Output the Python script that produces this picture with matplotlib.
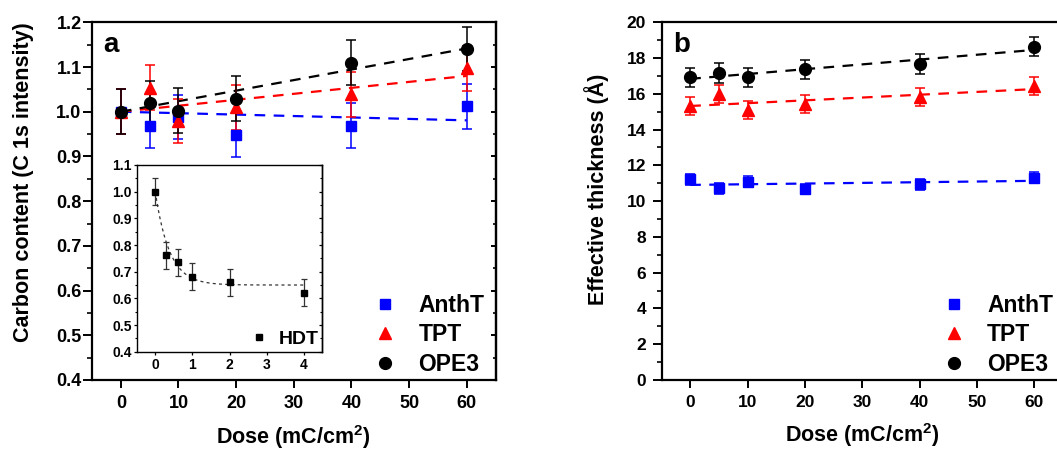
import numpy as np
import matplotlib
matplotlib.use("Agg")
import matplotlib.pyplot as plt
from matplotlib.ticker import MultipleLocator
from matplotlib.lines import Line2D

plt.rcParams['font.family'] = ['Liberation Sans', 'DejaVu Sans']
plt.rcParams['font.weight'] = 'bold'
plt.rcParams['mathtext.fontset'] = 'custom'
plt.rcParams['mathtext.rm'] = 'Liberation Sans:bold'
plt.rcParams['mathtext.it'] = 'Liberation Sans:bold'
plt.rcParams['mathtext.bf'] = 'Liberation Sans:bold'
plt.rcParams['mathtext.default'] = 'rm'

# ---------------- data ----------------
dose = [0, 5, 10, 20, 40, 60]
series = ['AnthT', 'TPT', 'OPE3']

# panel a: normalised carbon content
carbon_anth = [1.000, 0.968, 0.988, 0.948, 0.969, 1.012]
carbon_tpt = [1.000, 1.054, 0.979, 1.010, 1.039, 1.097]
carbon_ope3 = [1.000, 1.019, 1.002, 1.029, 1.110, 1.140]
carbon_err = [0.05, 0.05, 0.05, 0.05, 0.05, 0.05]

# panel b: effective thickness (Å)
thick_anth = [11.22, 10.72, 11.09, 10.68, 10.94, 11.31]
thick_tpt = [15.30, 15.97, 15.10, 15.43, 15.80, 16.45]
thick_ope3 = [16.92, 17.15, 16.92, 17.37, 17.67, 18.64]
thick_err_anth = [0.30, 0.30, 0.30, 0.30, 0.30, 0.30]
thick_err_tpt = [0.50, 0.50, 0.50, 0.50, 0.50, 0.50]
thick_err_ope3 = [0.55, 0.55, 0.55, 0.55, 0.55, 0.55]

# inset: HDT
hdt_dose = [0, 0.3, 0.6, 1, 2, 4]
hdt_carbon = [1.000, 0.761, 0.735, 0.681, 0.660, 0.621]
hdt_err = [0.05, 0.05, 0.05, 0.05, 0.05, 0.05]
hdt_fit_plateau = 0.65
hdt_fit_amp = 0.35
hdt_fit_tau = 0.38

colors = ['#0000ff', '#ff0000', '#000000']
markers = ['s', '^', 'o']
msizes = [7.5, 9, 8.5]

W, H = 1057, 450
fig = plt.figure(figsize=(W / 100, H / 100), dpi=100)

def frac(x0, y0, x1, y1):
    return [x0 / W, 1 - y1 / H, (x1 - x0) / W, (y1 - y0) / H]

axa = fig.add_axes(frac(92, 22.3, 495.5, 380))
axb = fig.add_axes(frac(661.5, 22.3, 1063, 380))
axi = fig.add_axes(frac(136.7, 165, 322.3, 351.7))


def style_main(ax, ymajor, yminor, lab_fs, ypad):
    for s in ax.spines.values():
        s.set_linewidth(1.6)
    ax.xaxis.set_major_locator(MultipleLocator(10))
    ax.yaxis.set_major_locator(MultipleLocator(ymajor))
    ax.yaxis.set_minor_locator(MultipleLocator(yminor))
    ax.tick_params(axis='x', which='major', direction='out', length=6, width=1.4,
                   top=False, labelsize=lab_fs, pad=5)
    ax.tick_params(axis='x', which='minor', bottom=False, top=False)
    ax.tick_params(axis='y', which='major', direction='out', length=6.5, width=1.4,
                   right=False, labelsize=lab_fs, pad=ypad)
    ax.tick_params(axis='y', which='minor', direction='out', length=3.5, width=1.2,
                   right=False)
    sec = ax.secondary_yaxis('right')
    sec.yaxis.set_major_locator(MultipleLocator(ymajor))
    sec.yaxis.set_minor_locator(MultipleLocator(yminor))
    sec.tick_params(which='major', direction='in', length=3.8, width=1.4, labelright=False)
    sec.tick_params(which='minor', direction='in', length=2.5, width=1.2, labelright=False)
    sec.spines['right'].set_linewidth(1.6)
    for lab in ax.get_xticklabels() + ax.get_yticklabels():
        lab.set_fontweight('bold')


def marker_handles(mss):
    return [Line2D([], [], ls='none', marker=m, color=c, mec=c, ms=ms)
            for m, c, ms in zip(markers, colors, mss)]


# ---------- panel a ----------
xfit = np.array([dose[0], dose[-1]])
for ys, c, m, ms, name in zip([carbon_anth, carbon_tpt, carbon_ope3], colors, markers, msizes, series):
    x = np.array(dose, float)
    y = np.array(ys, float)
    slope = np.sum(x * (y - 1.0)) / np.sum(x * x)   # fit through normalised origin (0, 1)
    axa.plot(xfit, 1.0 + slope * xfit, color=c, lw=1.6, dashes=(4.8, 3.8), zorder=2)
    axa.errorbar(dose, ys, yerr=carbon_err, fmt=m, color=c, ms=ms, mec=c,
                 ecolor=c, elinewidth=1.1, capsize=3.5, capthick=1.1, zorder=3)
axa.set_xlim(-5, 65)
axa.set_ylim(0.4, 1.2)
style_main(axa, 0.1, 0.05, 13, 1)
axa.set_xlabel('Dose (mC/cm$^{2}$)', fontsize=15.5, fontweight='bold', labelpad=8)
axa.set_ylabel('Carbon content (C 1s intensity)', fontsize=15.5, fontweight='bold')
axa.yaxis.set_label_coords(-0.144, 0.553)
axa.text(0.028, 0.937, 'a', transform=axa.transAxes, fontsize=20, fontweight='bold',
         ha='left', va='center')
axa.legend(marker_handles(msizes), series, loc='upper left', bbox_to_anchor=(0.698, 0.24),
           frameon=False, fontsize=16.5, handlelength=1.0, handletextpad=0.95,
           labelspacing=0.27, borderaxespad=0, borderpad=0)

# ---------- panel b ----------
msizes_b = [7.5, 8.5, 8.5]
for ys, err, c, m, ms in zip([thick_anth, thick_tpt, thick_ope3],
                             [thick_err_anth, thick_err_tpt, thick_err_ope3],
                             colors, markers, msizes_b):
    p = np.polyfit(dose, ys, 1)
    axb.plot(xfit, np.polyval(p, xfit), color=c, lw=1.6, dashes=(4.8, 3.8), zorder=2)
    axb.errorbar(dose, ys, yerr=err, fmt=m, color=c, ms=ms, mec=c,
                 ecolor=c, elinewidth=1.1, capsize=3.5, capthick=1.1, zorder=3)
axb.set_xlim(-5, 65)
axb.set_ylim(0, 20)
style_main(axb, 2, 1, 12.5, 4.5)
axb.set_xlabel('Dose (mC/cm$^{2}$)', fontsize=15.5, fontweight='bold', labelpad=8)
axb.set_ylabel('Effective thickness (Å)', fontsize=15.5, fontweight='bold')
axb.yaxis.set_label_coords(-0.131, 0.534)
axb.text(0.028, 0.937, 'b', transform=axb.transAxes, fontsize=20, fontweight='bold',
         ha='left', va='center')
axb.legend(marker_handles(msizes_b), series, loc='upper left', bbox_to_anchor=(0.70, 0.24),
           frameon=False, fontsize=16.5, handlelength=1.0, handletextpad=0.95,
           labelspacing=0.27, borderaxespad=0, borderpad=0)

# ---------- inset ----------
xs = np.linspace(0, 4, 200)
axi.plot(xs, hdt_fit_plateau + hdt_fit_amp * np.exp(-xs / hdt_fit_tau), color='#333333',
         lw=0.9, dashes=(2.4, 2.6), zorder=2)
axi.errorbar(hdt_dose, hdt_carbon, yerr=hdt_err, fmt='s', color='black', ms=4.2,
             ecolor='#333333', elinewidth=0.9, capsize=2.2, capthick=0.9, zorder=3)
axi.set_xlim(-0.5, 4.5)
axi.set_ylim(0.4, 1.1)
for s in axi.spines.values():
    s.set_linewidth(1.0)
axi.xaxis.set_major_locator(MultipleLocator(1))
axi.yaxis.set_major_locator(MultipleLocator(0.1))
axi.yaxis.set_minor_locator(MultipleLocator(0.05))
axi.tick_params(axis='x', which='major', direction='out', length=2.5, width=0.9,
                top=False, labelsize=10, pad=2)
axi.tick_params(axis='y', which='major', direction='out', length=2.5, width=0.9,
                right=False, labelsize=10, pad=1)
axi.tick_params(axis='y', which='minor', direction='out', length=1.5, width=0.8, right=False)
seci = axi.secondary_yaxis('right')
seci.yaxis.set_major_locator(MultipleLocator(0.1))
seci.yaxis.set_minor_locator(MultipleLocator(0.05))
seci.tick_params(which='major', direction='in', length=2.5, width=0.9, labelright=False)
seci.tick_params(which='minor', direction='in', length=1.5, width=0.8, labelright=False)
seci.spines['right'].set_linewidth(1.0)
for lab in axi.get_xticklabels() + axi.get_yticklabels():
    lab.set_fontweight('bold')
hdt_handle = [Line2D([], [], ls='none', marker='s', color='black', ms=4.2)]
axi.legend(hdt_handle, ['HDT'], loc='lower right', frameon=False, fontsize=14,
           handlelength=0.6, handletextpad=0.7, borderaxespad=0.1, borderpad=0.1)

fig.savefig('out.png', dpi=100)
